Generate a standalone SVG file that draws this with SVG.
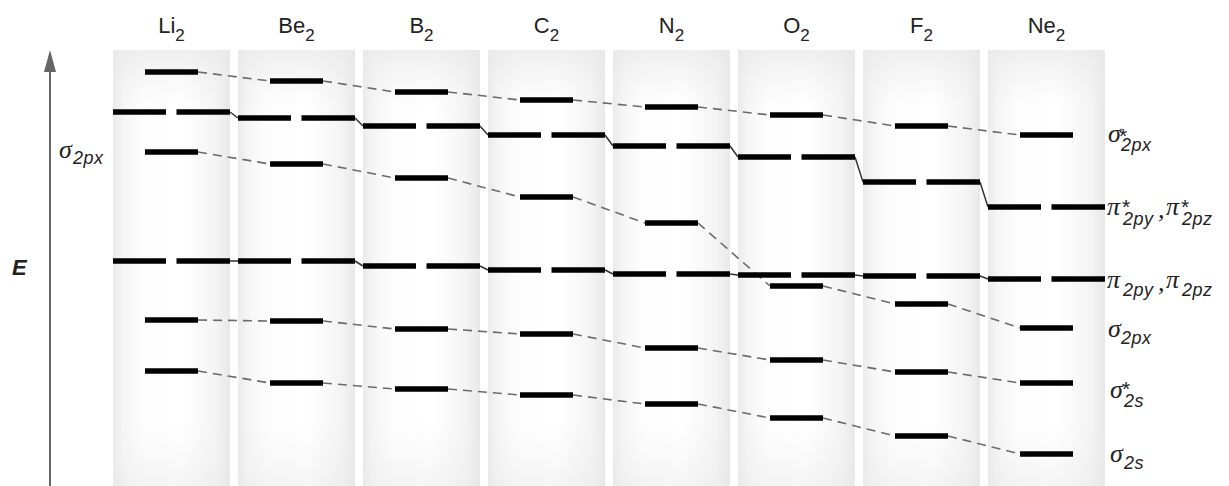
<svg xmlns="http://www.w3.org/2000/svg" width="1229" height="486" viewBox="0 0 1229 486">
<defs>
<linearGradient id="colh" x1="0" y1="0" x2="1" y2="0">
<stop offset="0" stop-color="#eaeaea"/>
<stop offset="0.08" stop-color="#f5f5f5"/>
<stop offset="0.25" stop-color="#fdfdfd"/>
<stop offset="0.6" stop-color="#ffffff"/>
<stop offset="0.88" stop-color="#f4f4f4"/>
<stop offset="1" stop-color="#e8e8e8"/>
</linearGradient>
<linearGradient id="colv" x1="0" y1="0" x2="0" y2="1">
<stop offset="0" stop-color="#e8e8e8" stop-opacity="0.7"/>
<stop offset="0.13" stop-color="#eeeeee" stop-opacity="0"/>
<stop offset="0.85" stop-color="#eeeeee" stop-opacity="0"/>
<stop offset="1" stop-color="#e8e8e8" stop-opacity="0.45"/>
</linearGradient>
<style>
.col{fill:url(#colh)}
.colo{fill:url(#colv)}
.lvl{stroke:#000;stroke-width:5.5;fill:none}
.dash{stroke:#6b6b6b;stroke-width:1.6;stroke-dasharray:9 6;fill:none}
.solid{stroke:#333;stroke-width:1.5;fill:none}
.name{font-family:"Liberation Sans",Arial,sans-serif;font-size:22px;fill:#222;text-anchor:middle}
.nsub{font-size:17px}
.sym{font-family:"Liberation Serif","Times New Roman",serif;font-style:italic;font-size:26px;fill:#222}
.sub{font-family:"Liberation Sans",Arial,sans-serif;font-style:italic;font-size:18px;letter-spacing:0.5px}
.sup{font-family:"Liberation Sans",Arial,sans-serif;font-style:normal;font-size:21px}
.axis{stroke:#666;stroke-width:2}
</style>
</defs>
<rect width="1229" height="486" fill="#ffffff"/>

<g id="axis">
<line class="axis" x1="50" y1="486" x2="50" y2="66"/>
<polygon points="44,72 56,72 50,50" fill="#666"/>
<text x="12" y="275" style="font-family:'Liberation Sans',Arial,sans-serif;font-size:22px;font-weight:bold;font-style:italic;fill:#222">E</text>
<text class="sym" x="59" y="158">σ<tspan class="sub" x="73" y="164">2px</tspan></text>
</g>

<g id="columns">
<rect class="col" x="113" y="50" width="117" height="436"/>
<rect class="col" x="238" y="50" width="117" height="436"/>
<rect class="col" x="363" y="50" width="117" height="436"/>
<rect class="col" x="488" y="50" width="117" height="436"/>
<rect class="col" x="613" y="50" width="117" height="436"/>
<rect class="col" x="738" y="50" width="117" height="436"/>
<rect class="col" x="863" y="50" width="117" height="436"/>
<rect class="col" x="988" y="50" width="117" height="436"/>
<rect class="colo" x="113" y="50" width="117" height="436"/>
<rect class="colo" x="238" y="50" width="117" height="436"/>
<rect class="colo" x="363" y="50" width="117" height="436"/>
<rect class="colo" x="488" y="50" width="117" height="436"/>
<rect class="colo" x="613" y="50" width="117" height="436"/>
<rect class="colo" x="738" y="50" width="117" height="436"/>
<rect class="colo" x="863" y="50" width="117" height="436"/>
<rect class="colo" x="988" y="50" width="117" height="436"/>
</g>

<g id="connectors">
<path class="dash" d="M198,72L270,81M323,81L395,92M448,92L520,100M573,100L645,107M698,107L770,115M823,115L895,126M948,126L1020,135"/>
<path class="dash" d="M198,152L270,164M323,164L395,178M448,178L520,197M573,197L645,223M698,223L770,286M823,286L895,304M948,304L1020,328"/>
<path class="dash" d="M198,320L270,321M323,321L395,329M448,329L520,334M573,334L645,348M698,348L770,360M823,360L895,372M948,372L1020,383"/>
<path class="dash" d="M198,371L270,383M323,383L395,389M448,389L520,395M573,395L645,404M698,404L770,418M823,418L895,436M948,436L1020,454"/>
<path class="solid" d="M230,112L238,118M355,118L363,126M480,126L488,135M605,135L613,146M730,146L738,157M855,157L863,182M980,182L988,207"/>
<path class="solid" d="M230,261L238,261M355,261L363,266M480,266L488,270M605,270L613,274M730,274L738,275M855,275L863,276M980,276L988,279"/>
</g>

<g id="Li2">
<text class="name" x="171.5" y="33">Li<tspan class="nsub" dy="8">2</tspan></text>
<path class="lvl" d="M145,72H198M113,112H166M176.5,112H230M145,152H198M113,261H166M176.5,261H230M145,320H198M145,371H198"/>
</g>
<g id="Be2">
<text class="name" x="296.5" y="33">Be<tspan class="nsub" dy="8">2</tspan></text>
<path class="lvl" d="M270,81H323M238,118H291M301.5,118H355M270,164H323M238,261H291M301.5,261H355M270,321H323M270,383H323"/>
</g>
<g id="B2">
<text class="name" x="421.5" y="33">B<tspan class="nsub" dy="8">2</tspan></text>
<path class="lvl" d="M395,92H448M363,126H416M426.5,126H480M395,178H448M363,266H416M426.5,266H480M395,329H448M395,389H448"/>
</g>
<g id="C2">
<text class="name" x="546.5" y="33">C<tspan class="nsub" dy="8">2</tspan></text>
<path class="lvl" d="M520,100H573M488,135H541M551.5,135H605M520,197H573M488,270H541M551.5,270H605M520,334H573M520,395H573"/>
</g>
<g id="N2">
<text class="name" x="671.5" y="33">N<tspan class="nsub" dy="8">2</tspan></text>
<path class="lvl" d="M645,107H698M613,146H666M676.5,146H730M645,223H698M613,274H666M676.5,274H730M645,348H698M645,404H698"/>
</g>
<g id="O2">
<text class="name" x="796.5" y="33">O<tspan class="nsub" dy="8">2</tspan></text>
<path class="lvl" d="M770,115H823M738,157H791M801.5,157H855M770,286H823M738,275H791M801.5,275H855M770,360H823M770,418H823"/>
</g>
<g id="F2">
<text class="name" x="921.5" y="33">F<tspan class="nsub" dy="8">2</tspan></text>
<path class="lvl" d="M895,126H948M863,182H916M926.5,182H980M895,304H948M863,276H916M926.5,276H980M895,372H948M895,436H948"/>
</g>
<g id="Ne2">
<text class="name" x="1046.5" y="33">Ne<tspan class="nsub" dy="8">2</tspan></text>
<path class="lvl" d="M1020,135H1073M988,207H1041M1051.5,207H1105M1020,328H1073M988,279H1041M1051.5,279H1105M1020,383H1073M1020,454H1073"/>
</g>

<g id="labels">
<text class="sym" x="1108" y="142">σ<tspan class="sup" x="1119" y="143">*</tspan><tspan class="sub" x="1121" y="151">2px</tspan></text>
<text class="sym" x="1107" y="215">π<tspan class="sup" x="1122" y="214">*</tspan><tspan class="sub" x="1123" y="225">2py</tspan><tspan x="1158" y="218">,</tspan><tspan x="1166" y="215">π</tspan><tspan class="sup" x="1181" y="214">*</tspan><tspan class="sub" x="1182" y="225">2pz</tspan></text>
<text class="sym" x="1107" y="288">π<tspan class="sub" x="1123" y="296">2py</tspan><tspan x="1158" y="291">,</tspan><tspan x="1166" y="288">π</tspan><tspan class="sub" x="1182" y="296">2pz</tspan></text>
<text class="sym" x="1108" y="337">σ<tspan class="sub" x="1121" y="344">2px</tspan></text>
<text class="sym" x="1110" y="398">σ<tspan class="sup" x="1122" y="396">*</tspan><tspan class="sub" x="1124" y="407">2s</tspan></text>
<text class="sym" x="1110" y="462">σ<tspan class="sub" x="1124" y="469">2s</tspan></text>
</g>
</svg>
